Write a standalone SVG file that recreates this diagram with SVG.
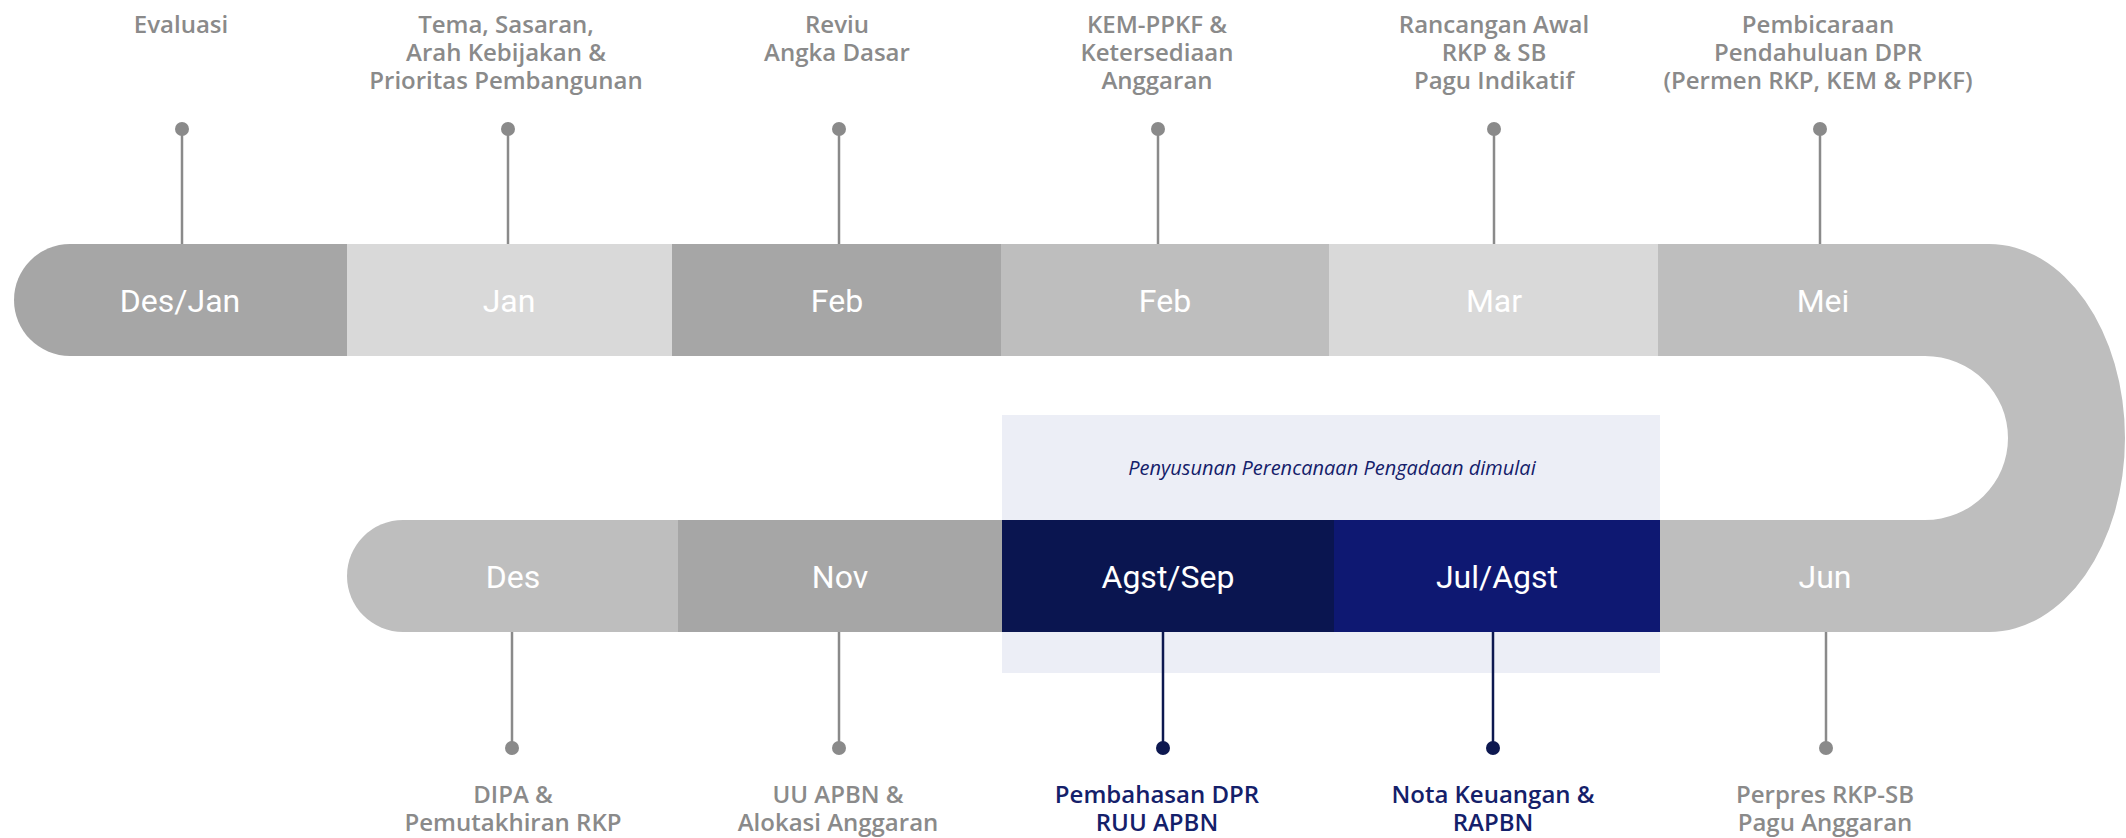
<svg xmlns="http://www.w3.org/2000/svg" width="2126" height="838" viewBox="0 0 2126 838">
<style>
.lbl{font-family:"Open Sans","Liberation Sans",sans-serif;font-weight:600;font-size:24px;text-anchor:middle;fill:#8a8a8a}
.lbln{font-family:"Open Sans","Liberation Sans",sans-serif;font-weight:600;font-size:24px;text-anchor:middle;fill:#14206a}
.mon{font-family:Roboto,"Liberation Sans",sans-serif;font-size:32px;text-anchor:middle;fill:#ffffff}
.note{font-family:"Open Sans","Liberation Sans",sans-serif;font-style:italic;font-size:20px;text-anchor:middle;fill:#14206a}
.stem{stroke:#8a8a8a;stroke-width:2.5;fill:none}
.stemn{stroke:#0d1850;stroke-width:2.5;fill:none}
.dot{fill:#8a8a8a}
.dotn{fill:#0d1850}
</style>
<rect width="2126" height="838" fill="#ffffff"/>
<g id="highlight">
<rect x="1002" y="415" width="658" height="258" fill="#eceef6"/>
<text class="note" x="1332" y="475">Penyusunan Perencanaan Pengadaan dimulai</text>
</g>
<g id="connectors">
<line class="stem" x1="182" y1="129" x2="182" y2="245"/>
<line class="stem" x1="508" y1="129" x2="508" y2="245"/>
<line class="stem" x1="839" y1="129" x2="839" y2="245"/>
<line class="stem" x1="1158" y1="129" x2="1158" y2="245"/>
<line class="stem" x1="1494" y1="129" x2="1494" y2="245"/>
<line class="stem" x1="1820" y1="129" x2="1820" y2="245"/>
<line class="stem" x1="512" y1="632" x2="512" y2="748"/>
<line class="stem" x1="839" y1="632" x2="839" y2="748"/>
<line class="stemn" x1="1163" y1="632" x2="1163" y2="748"/>
<line class="stemn" x1="1493" y1="632" x2="1493" y2="748"/>
<line class="stem" x1="1826" y1="632" x2="1826" y2="748"/>
</g>
<g id="seg-desjan">
<path d="M70,244 H347 V356 H70 A56,56 0 0 1 70,244 Z" fill="#a6a6a6"/>
<text class="mon" x="180" y="312">Des/Jan</text>
</g>
<g id="seg-jan">
<rect x="347" y="244" width="325" height="112" fill="#d9d9d9"/>
<text class="mon" x="509" y="312">Jan</text>
</g>
<g id="seg-feb1">
<rect x="672" y="244" width="329" height="112" fill="#a6a6a6"/>
<text class="mon" x="837" y="312">Feb</text>
</g>
<g id="seg-feb2">
<rect x="1001" y="244" width="328" height="112" fill="#bebebe"/>
<text class="mon" x="1165" y="312">Feb</text>
</g>
<g id="seg-mar">
<rect x="1329" y="244" width="329" height="112" fill="#d9d9d9"/>
<text class="mon" x="1494" y="312">Mar</text>
</g>
<g id="seg-mei-jun">
<path d="M1658,244 H1989 A136,194 0 0 1 1989,632 H1660 V520 H1925 A83,82 0 0 0 1925,356 H1658 Z" fill="#bebebe"/>
<text class="mon" x="1823" y="312">Mei</text>
<text class="mon" x="1825" y="588">Jun</text>
</g>
<g id="seg-des">
<path d="M403,520 H678 V632 H403 A56,56 0 0 1 403,520 Z" fill="#bebebe"/>
<text class="mon" x="513" y="588">Des</text>
</g>
<g id="seg-nov">
<rect x="678" y="520" width="324" height="112" fill="#a6a6a6"/>
<text class="mon" x="840" y="588">Nov</text>
</g>
<g id="seg-agstsep">
<rect x="1002" y="520" width="332" height="112" fill="#0a1550"/>
<text class="mon" x="1168" y="588">Agst/Sep</text>
</g>
<g id="seg-julagst">
<rect x="1334" y="520" width="326" height="112" fill="#0e1872"/>
<text class="mon" x="1497" y="588">Jul/Agst</text>
</g>
<g id="ev-evaluasi">
<circle class="dot" cx="182" cy="129" r="7"/>
<text class="lbl" x="181" y="33">Evaluasi</text>
</g>
<g id="ev-tema">
<circle class="dot" cx="508" cy="129" r="7"/>
<text class="lbl" x="506" y="33">Tema, Sasaran,</text>
<text class="lbl" x="506" y="61">Arah Kebijakan &amp;</text>
<text class="lbl" x="506" y="89">Prioritas Pembangunan</text>
</g>
<g id="ev-reviu">
<circle class="dot" cx="839" cy="129" r="7"/>
<text class="lbl" x="837" y="33">Reviu</text>
<text class="lbl" x="837" y="61">Angka Dasar</text>
</g>
<g id="ev-kem">
<circle class="dot" cx="1158" cy="129" r="7"/>
<text class="lbl" x="1157" y="33">KEM-PPKF &amp;</text>
<text class="lbl" x="1157" y="61">Ketersediaan</text>
<text class="lbl" x="1157" y="89">Anggaran</text>
</g>
<g id="ev-rancangan">
<circle class="dot" cx="1494" cy="129" r="7"/>
<text class="lbl" x="1494" y="33">Rancangan Awal</text>
<text class="lbl" x="1494" y="61">RKP &amp; SB</text>
<text class="lbl" x="1494" y="89">Pagu Indikatif</text>
</g>
<g id="ev-pembicaraan">
<circle class="dot" cx="1820" cy="129" r="7"/>
<text class="lbl" x="1818" y="33">Pembicaraan</text>
<text class="lbl" x="1818" y="61">Pendahuluan DPR</text>
<text class="lbl" x="1818" y="89">(Permen RKP, KEM &amp; PPKF)</text>
</g>
<g id="ev-dipa">
<circle class="dot" cx="512" cy="748" r="7"/>
<text class="lbl" x="513" y="803">DIPA &amp;</text>
<text class="lbl" x="513" y="831">Pemutakhiran RKP</text>
</g>
<g id="ev-uu">
<circle class="dot" cx="839" cy="748" r="7"/>
<text class="lbl" x="838" y="803">UU APBN &amp;</text>
<text class="lbl" x="838" y="831">Alokasi Anggaran</text>
</g>
<g id="ev-pembahasan">
<circle class="dotn" cx="1163" cy="748" r="7"/>
<text class="lbln" x="1157" y="803">Pembahasan DPR</text>
<text class="lbln" x="1157" y="831">RUU APBN</text>
</g>
<g id="ev-nota">
<circle class="dotn" cx="1493" cy="748" r="7"/>
<text class="lbln" x="1493" y="803">Nota Keuangan &amp;</text>
<text class="lbln" x="1493" y="831">RAPBN</text>
</g>
<g id="ev-perpres">
<circle class="dot" cx="1826" cy="748" r="7"/>
<text class="lbl" x="1825" y="803">Perpres RKP-SB</text>
<text class="lbl" x="1825" y="831">Pagu Anggaran</text>
</g>
</svg>
